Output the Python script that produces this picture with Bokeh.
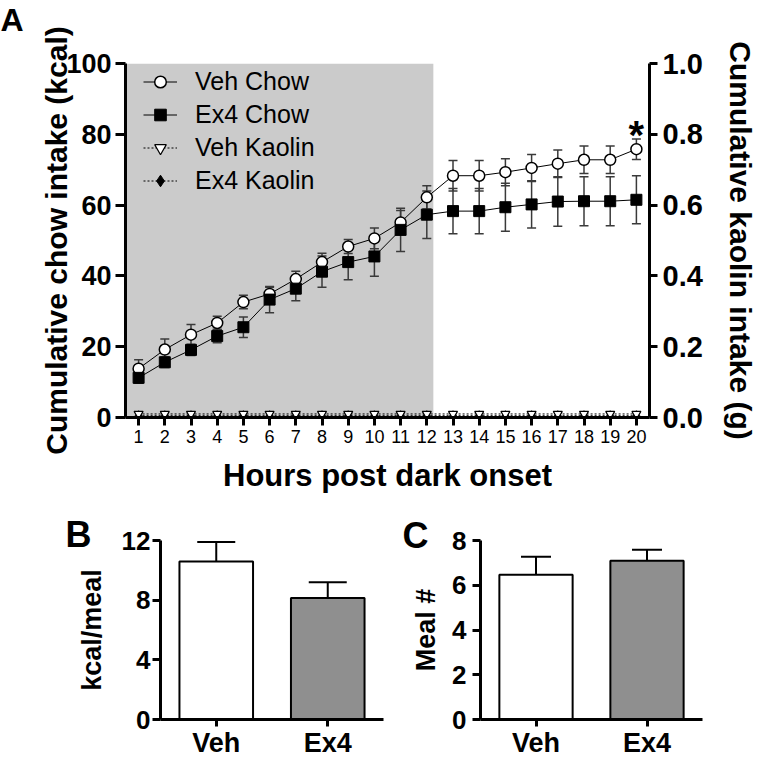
from bokeh.plotting import figure
from bokeh.models import (Range1d, LinearAxis, FixedTicker, BoxAnnotation, Legend,
                          LegendItem, Title, FactorRange, NumeralTickFormatter)
from bokeh.layouts import column, row
from bokeh.embed import file_html
from bokeh.resources import INLINE
from bokeh.core.properties import value

# ---------------- data ----------------
hours = [1, 2, 3, 4, 5, 6, 7, 8, 9, 10, 11, 12, 13, 14, 15, 16, 17, 18, 19, 20]
veh_chow = [13.8, 19.2, 23.4, 26.7, 32.6, 34.9, 39.1, 43.9, 48.3, 50.6,
            55.1, 62.2, 68.3, 68.3, 69.3, 70.5, 71.7, 72.8, 72.8, 75.8]
veh_chow_sem = [2.5, 3.0, 2.9, 1.9, 1.9, 1.9, 2.2, 2.5, 2.0, 2.9,
                3.4, 3.3, 4.3, 4.3, 3.8, 3.8, 3.9, 3.9, 3.9, 2.9]
ex4_chow = [11.2, 15.6, 19.1, 23.0, 25.5, 33.3, 36.4, 41.2, 43.9, 45.5,
            53.0, 57.3, 58.3, 58.3, 59.4, 60.2, 61.0, 61.1, 61.1, 61.5]
ex4_chow_sem = [1.5, 1.5, 1.6, 1.9, 2.9, 3.7, 3.4, 4.4, 5.0, 5.6,
                6.1, 6.7, 6.4, 6.4, 6.8, 6.7, 7.0, 6.9, 6.9, 6.8]
veh_kaolin = [0.01, 0.01, 0.01, 0.01, 0.01, 0.01, 0.01, 0.01, 0.01, 0.01,
              0.01, 0.01, 0.01, 0.01, 0.01, 0.01, 0.01, 0.01, 0.01, 0.01]
ex4_kaolin = [0.005, 0.005, 0.005, 0.005, 0.005, 0.005, 0.005, 0.005, 0.005, 0.005,
              0.005, 0.005, 0.005, 0.005, 0.005, 0.005, 0.005, 0.005, 0.005, 0.005]
chow_ticks = [0, 20, 40, 60, 80, 100]
kaolin_ticks = [0.0, 0.2, 0.4, 0.6, 0.8, 1.0]
dark_phase_end = 12.25

groups = ["Veh", "Ex4"]
kcal_per_meal = [10.6, 8.15]
kcal_per_meal_sem = [1.3, 1.05]
meal_number = [6.47, 7.1]
meal_number_sem = [0.8, 0.49]
kcal_ticks = [0, 4, 8, 12]
meal_ticks = [0, 2, 4, 6, 8]

# ---------------- style ----------------
FONT = "Liberation Sans"
SHADE = "#cbcbcb"
BAR_FILLS = ["white", "#8f8f8f"]
ERR = "#3a3a3a"


def style_axis(ax, tick_size, tick_bold, label_size, standoff, label_standoff, tick_out=8):
    ax.axis_line_width = 3
    ax.axis_line_color = "black"
    ax.major_tick_line_width = 3
    ax.major_tick_line_color = "black"
    ax.major_tick_out = tick_out
    ax.major_tick_in = 0
    ax.minor_tick_line_color = None
    ax.major_label_text_font = FONT
    ax.major_label_text_font_size = tick_size
    ax.major_label_text_font_style = "bold" if tick_bold else "normal"
    ax.major_label_text_color = "black"
    ax.major_label_standoff = standoff
    ax.axis_label_text_font = FONT
    ax.axis_label_text_font_size = label_size
    ax.axis_label_text_font_style = "bold"
    ax.axis_label_text_color = "black"
    ax.axis_label_standoff = label_standoff


def panel_letter(text, offset, size, valign, standoff):
    return Title(text=text, align="left", offset=offset, vertical_align=valign,
                 standoff=standoff, text_font=FONT, text_font_size=size,
                 text_font_style="bold", text_color="black")


# ---------------- panel A ----------------
p = figure(width=759, height=503, x_range=Range1d(0.5, 20.5), y_range=Range1d(0, 100),
           output_backend="svg", toolbar_location=None,
           min_border_left=125, min_border_right=107, min_border_top=63, min_border_bottom=86)
p.outline_line_color = None
p.grid.visible = False
p.extra_y_ranges = {"kaolin": Range1d(0, 1)}

p.add_layout(BoxAnnotation(right=dark_phase_end, fill_color=SHADE, fill_alpha=1.0,
                           line_color=None, level="underlay"))

for ys, es in ((veh_chow, veh_chow_sem), (ex4_chow, ex4_chow_sem)):
    lo = [a - b for a, b in zip(ys, es)]
    hi = [a + b for a, b in zip(ys, es)]
    p.segment(x0=hours, y0=lo, x1=hours, y1=hi, line_color=ERR, line_width=1.5)
    p.scatter(x=hours + hours, y=lo + hi, marker="dash", size=9, line_color=ERR, line_width=1.5)

l_vk = p.line(hours, veh_kaolin, y_range_name="kaolin", line_color="black", line_width=1, line_dash="2 2")
l_ek = p.line(hours, ex4_kaolin, y_range_name="kaolin", line_color="black", line_width=1, line_dash="2 2")
s_ek = p.scatter(hours, ex4_kaolin, y_range_name="kaolin", marker="diamond", size=10,
                 fill_color="black", line_color="black")
s_vk = p.scatter(hours, veh_kaolin, y_range_name="kaolin", marker="inverted_triangle", size=9,
                 fill_color="white", line_color="black", line_width=1.2)
l_vc = p.line(hours, veh_chow, line_color="black", line_width=1)
l_ec = p.line(hours, ex4_chow, line_color="black", line_width=1)
s_vc = p.scatter(hours, veh_chow, marker="circle", size=11, fill_color="white",
                 line_color="black", line_width=1.5)
s_ec = p.scatter(hours, ex4_chow, marker="square", size=11, fill_color="black",
                 line_color="black")

p.text(x=[hours[-1]], y=[veh_chow[-1] + veh_chow_sem[-1]], text=["*"], text_align="center",
       text_baseline="middle", y_offset=-4, text_font=value(FONT), text_font_style="bold",
       text_font_size="40px", text_color="black")

legend = Legend(items=[LegendItem(label="Veh Chow", renderers=[l_vc, s_vc]),
                       LegendItem(label="Ex4 Chow", renderers=[l_ec, s_ec]),
                       LegendItem(label="Veh Kaolin", renderers=[l_vk, s_vk]),
                       LegendItem(label="Ex4 Kaolin", renderers=[l_ek, s_ek])],
                location=(18, 222))
legend.background_fill_alpha = 0
legend.border_line_color = None
legend.padding = 0
legend.margin = 0
legend.spacing = 4
legend.glyph_width = 34
legend.glyph_height = 29
legend.label_height = 29
legend.label_standoff = 18
legend.label_text_font = FONT
legend.label_text_font_size = "25px"
legend.label_text_color = "black"
legend.label_text_baseline = "middle"
p.add_layout(legend)

p.xaxis.ticker = FixedTicker(ticks=hours)
p.xaxis.axis_label = "Hours post dark onset"
style_axis(p.xaxis[0], "18px", False, "31px", 4, 12)
p.yaxis.ticker = FixedTicker(ticks=chow_ticks)
p.yaxis.axis_label = "Cumulative chow intake (kcal)"
style_axis(p.yaxis[0], "27px", True, "30px", 4, -10, tick_out=10)

right_axis = LinearAxis(y_range_name="kaolin", ticker=FixedTicker(ticks=kaolin_ticks),
                        formatter=NumeralTickFormatter(format="0.0"),
                        axis_label="Cumulative kaolin intake (g)")
style_axis(right_axis, "29px", True, "30px", 5, 18)
p.add_layout(right_axis, "right")

# spacer (closest to the frame) then the panel letter above it
p.add_layout(Title(text=" ", text_font_size="1px", standoff=21), "above")
p.add_layout(panel_letter("A", -125, "32px", "top", 0), "above")


# ---------------- panels B and C ----------------
def bar_panel(vals, sems, ticks, ylabel, letter, width, border_left, border_right,
              cap_size, letter_offset, letter_standoff, tick_standoff, label_standoff):
    b = figure(width=width, height=257, x_range=FactorRange(factors=groups, range_padding=0),
               y_range=Range1d(0, ticks[-1]), output_backend="svg", toolbar_location=None,
               min_border_left=border_left, min_border_right=border_right,
               min_border_top=37, min_border_bottom=30)
    b.outline_line_color = None
    b.grid.visible = False
    hi = [v + s for v, s in zip(vals, sems)]
    b.segment(x0=groups, y0=vals, x1=groups, y1=hi, line_color="black", line_width=2)
    b.scatter(x=groups, y=hi, marker="dash", size=cap_size, line_color="black", line_width=2)
    b.vbar(x=groups, top=vals, width=0.66, fill_color=BAR_FILLS, line_color="black", line_width=2)
    b.yaxis.ticker = FixedTicker(ticks=ticks)
    b.yaxis.axis_label = ylabel
    style_axis(b.yaxis[0], "26px", True, "27px", tick_standoff, label_standoff)
    style_axis(b.xaxis[0], "27px", True, "27px", 1, 0, tick_out=7)
    b.add_layout(panel_letter(letter, letter_offset, "36px", "bottom", letter_standoff), "above")
    return b


pb = bar_panel(kcal_per_meal, kcal_per_meal_sem, kcal_ticks, "kcal/meal", "B", 400, 160, 17,
               38, -95, -28, 2, 12)
pc = bar_panel(meal_number, meal_number_sem, meal_ticks, "Meal #", "C", 359, 80, 57,
               30, -78, -30, 6, 8)

layout = column(p, row(pb, pc))
open("out.html", "w").write(file_html(layout, INLINE))
